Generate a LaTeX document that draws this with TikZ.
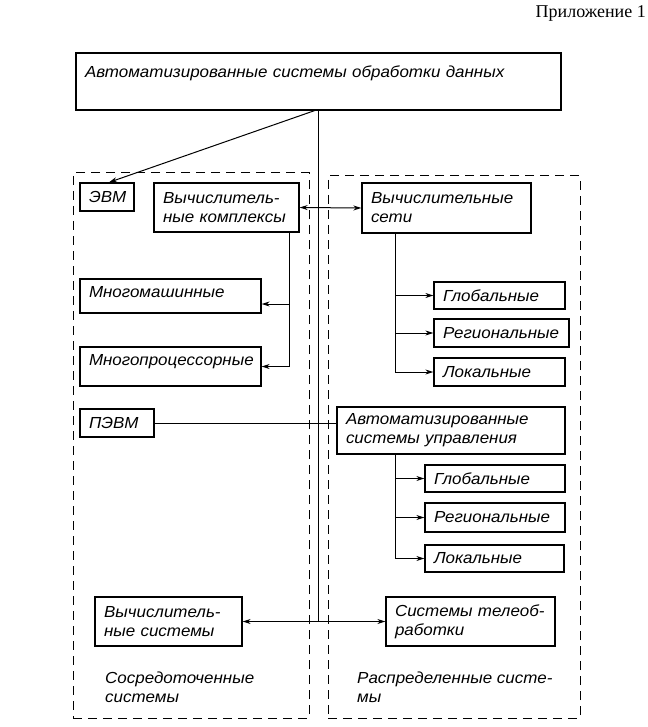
\documentclass[tikz,border=0pt]{standalone}
\usepackage{fontspec}
\setmainfont{Liberation Serif}
\setsansfont{Liberation Sans}[FakeStretch=1.06]
\usetikzlibrary{arrows.meta,positioning}
\newcommand{\boxfont}{\sffamily\itshape\fontsize{16}{19}\selectfont}
\tikzset{
 every node/.append style={font=\boxfont,align=left},
 box/.style={draw,fill=white,line width=1.3pt,inner xsep=9pt,inner ysep=2pt},
 group/.style={draw,line width=1pt,dash pattern=on 9pt off 6pt},
 caption/.style={inner sep=0pt,anchor=west},
 link/.style={line width=1pt},
 arr/.style={link,-{Stealth[length=8pt,width=5pt]}},
 twoway/.style={link,{Stealth[length=8pt,width=5pt]}-{Stealth[length=8pt,width=5pt]}},
}

\begin{document}
\begin{tikzpicture}[x=1pt,y=1pt]
\useasboundingbox (0,0) rectangle (647,-727);

\node[font=\rmfamily\fontsize{18}{21}\selectfont,inner sep=0pt,anchor=east] (annex) at (646,-13) {Приложение 1};

\node[group,minimum width=236,minimum height=545] (central) at (191,-445.5) {};
\node[group,minimum width=252,minimum height=542] (distrib) at (454,-447) {};

\node[box,text width=467pt,minimum height=57pt,text depth=20pt] (asod) at (318.5,-81.5) {Автоматизированные системы обработки данных};

% left side
\node[box,text width=36pt,minimum height=28pt] (evm) at (107,-197) {ЭВМ};
\node[box,text width=127pt,minimum height=49pt] (kompl) at (226.5,-207.5) {Вычислитель-\\ные комплексы};
\node[box,text width=163pt,minimum height=34pt,text depth=9pt] (mmash) at (170.5,-296) {Многомашинные};
\node[box,text width=163pt,minimum height=39pt,text depth=14pt] (mproc) at (170.5,-366.5) {Многопроцессорные};
\node[box,text width=56pt,minimum height=28pt] (pevm) at (117,-423) {ПЭВМ};
\node[box,text width=129pt,minimum height=49pt] (vsys) at (168.5,-621.5) {Вычислитель-\\ные системы};

% right side
\node[box,text width=151pt,minimum height=50pt] (seti) at (446.5,-208) {Вычислительные\\сети};
\node[box,text width=113pt,minimum height=27pt] (glob1) at (499.5,-295.5) {Глобальные};
\node[box,text width=117pt,minimum height=28pt] (reg1) at (501.5,-333) {Региональные};
\node[box,text width=113pt,minimum height=28pt] (lok1) at (499.5,-372) {Локальные};
\node[box,text width=210pt,minimum height=47pt] (asu) at (451,-430.5) {Автоматизированные\\системы управления};
\node[box,text width=122pt,minimum height=27pt] (glob2) at (495,-478.5) {Глобальные};
\node[box,text width=122pt,minimum height=29pt] (reg2) at (495,-517.5) {Региональные};
\node[box,text width=121pt,minimum height=27pt] (lok2) at (494.5,-558.5) {Локальные};
\node[box,text width=151pt,minimum height=49pt] (tele) at (470.5,-621.5) {Системы телеоб-\\работки};

\node[caption] (cap1) at (105,-687) {Сосредоточенные\\системы};
\node[caption] (cap2) at (357,-687) {Распределенные систе-\\мы};

% connectors
\draw[arr] ([xshift=-4pt]asod.south) -- ([xshift=2pt]evm.north);
\draw[link] (asod.south) -- (asod.south |- vsys.east);
\draw[twoway] (vsys.east) -- (tele.west);
\draw[twoway] (kompl.east) -- (seti.west);
\draw[arr] ([xshift=-10pt]kompl.south east) |- ([yshift=-8pt]mmash.east);
\draw[arr] ([xshift=-10pt]kompl.south east) |- (mproc.east);
\foreach \n in {glob1,reg1,lok1}
  \draw[arr] ([xshift=34pt]seti.south west) |- (\n.west);
\draw[link] (pevm.east) -- (pevm.east -| asu.west);
\foreach \n in {glob2,reg2,lok2}
  \draw[arr] ([xshift=59pt]asu.south west) |- (\n.west);

\end{tikzpicture}
\end{document}
